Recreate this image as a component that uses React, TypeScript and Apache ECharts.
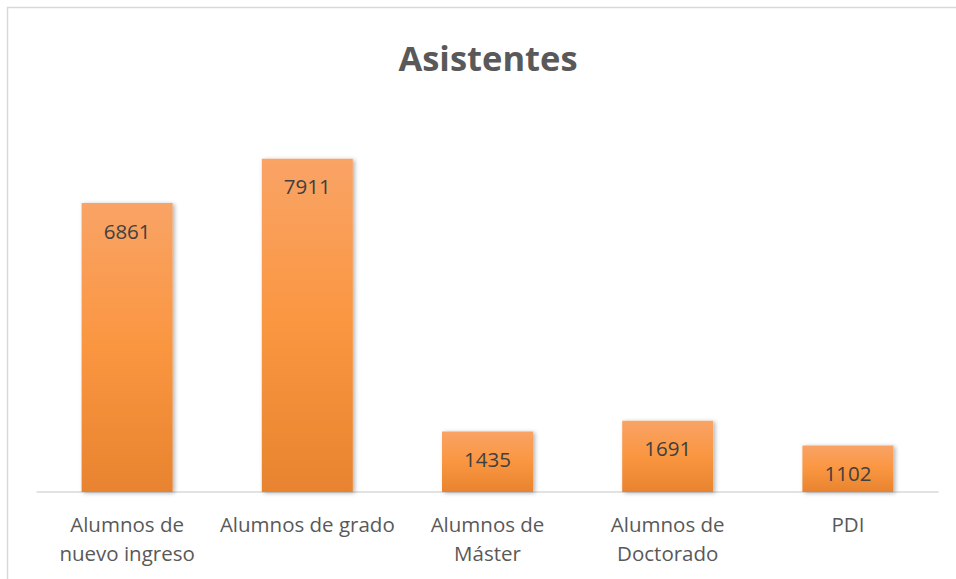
import React, { useEffect, useRef } from "react";
import * as echarts from "echarts";

const titleText = "Asistentes";
const categories = [
  "Alumnos de\nnuevo ingreso",
  "Alumnos de grado",
  "Alumnos de\nMáster",
  "Alumnos de\nDoctorado",
  "PDI",
];
const values = [6861, 7911, 1435, 1691, 1102];

export default function App() {
  const ref = useRef<HTMLDivElement>(null);
  useEffect(() => {
    if (!ref.current) return;
    const chart = echarts.init(ref.current, null, { renderer: "svg" });
    const font = "'Open Sans', 'Noto Sans', sans-serif";
    chart.setOption({
      animation: false,
      backgroundColor: "#ffffff",
      graphic: [
        {
          type: "rect",
          shape: { x: 7.5, y: 7.5, width: 1100, height: 1100 },
          style: { fill: "none", stroke: "#D9D9D9", lineWidth: 1.5 },
          silent: true,
        },
        {
          type: "text",
          x: 488,
          y: 57,
          style: {
            text: titleText,
            align: "center",
            verticalAlign: "middle",
            fontFamily: font,
            fontSize: 34.5,
            fontWeight: "bold",
            fill: "#595959",
          },
          silent: true,
        },
      ],
      grid: { left: 37, right: 18, top: 113, bottom: 87 },
      xAxis: {
        type: "category",
        data: categories,
        axisLine: { lineStyle: { color: "#D9D9D9", width: 1.5 } },
        axisTick: { show: false },
        axisLabel: {
          interval: 0,
          margin: 17,
          fontFamily: font,
          fontSize: 20.5,
          lineHeight: 29,
          color: "#595959",
        },
      },
      yAxis: {
        type: "value",
        min: 0,
        max: 9000,
        show: false,
        splitLine: { show: false },
      },
      series: [
        {
          type: "bar",
          data: values,
          barWidth: "50.5%",
          itemStyle: {
            color: new echarts.graphic.LinearGradient(0, 0, 0, 1, [
              { offset: 0, color: "#F9A366" },
              { offset: 0.5, color: "#FA9640" },
              { offset: 1, color: "#E8832F" },
            ]),
            shadowBlur: 4,
            shadowColor: "rgba(0,0,0,0.3)",
            shadowOffsetX: 2,
            shadowOffsetY: 1,
          },
          label: {
            show: true,
            position: "insideTop",
            distance: 17,
            fontFamily: font,
            fontSize: 20.5,
            color: "#404040",
          },
        },
      ],
    });
    return () => chart.dispose();
  }, []);
  return (
    <div
      ref={ref}
      style={{ position: "fixed", left: 0, top: 0, width: 956, height: 579 }}
    />
  );
}
